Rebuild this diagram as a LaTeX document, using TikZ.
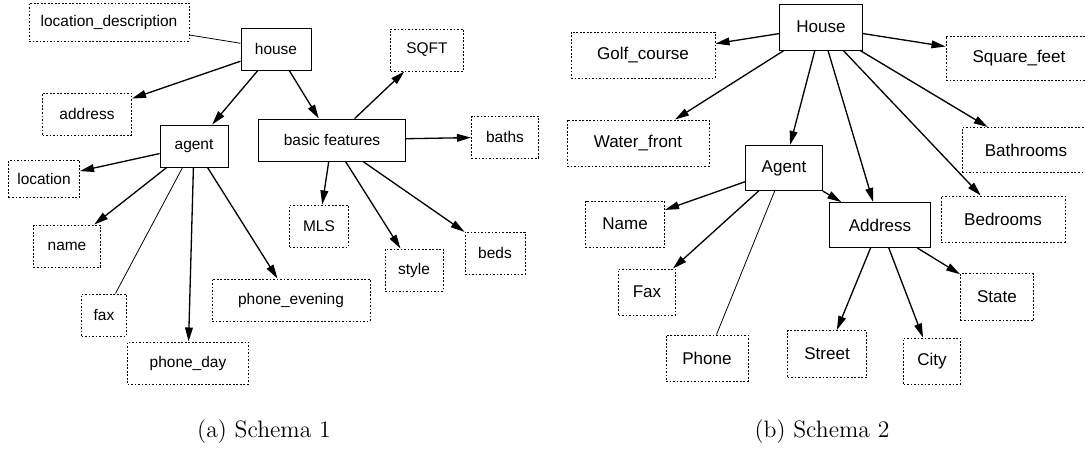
\documentclass[tikz,border=0pt]{standalone}
\usepackage{fontspec}
\newfontfamily\nodefont{Liberation Sans}
\usepackage{tikz}
\usetikzlibrary{arrows.meta}
\tikzset{
  ent/.style={draw, line width=0.55pt, inner sep=0pt, minimum height=0.84cm},
  attr/.style={draw, line width=0.55pt, dash pattern=on 1pt off 1pt, inner sep=0pt, minimum height=0.84cm},
  lft/.style={font=\nodefont\fontsize{8.8}{10}\selectfont},
  rgt/.style={font=\nodefont\fontsize{9.7}{11}\selectfont, minimum height=0.92cm},
  arr/.style={-{Triangle[length=8pt,width=4.4pt]}, line width=0.75pt},
  lnk/.style={line width=0.45pt},
  captxt/.style={font=\fontsize{13.5}{16}\selectfont},
}

\begin{document}
\begin{tikzpicture}[x=0.02cm, y=-0.02cm]
  \useasboundingbox (0,0) rectangle (1085,451);
  % schema 1
  \node[ent, lft, minimum width=1.4cm] (hs) at (276,49) {house};
  \node[attr, lft, minimum width=3.2cm, minimum height=0.76cm] (ld) at (109,22) {location\_description};
  \node[attr, lft, minimum width=1.46cm] (sq) at (427,50) {SQFT};
  \node[attr, lft, minimum width=1.78cm] (ad) at (87,114) {address};
  \node[ent, lft, minimum width=1.36cm] (ag) at (194,146) {agent};
  \node[ent, lft, minimum width=2.94cm] (bf) at (332,140) {basic features};
  \node[attr, lft, minimum width=1.34cm] (ba) at (505,137) {baths};
  \node[attr, lft, minimum width=1.42cm, minimum height=0.74cm] (lc) at (44,179) {location};
  \node[attr, lft, minimum width=1.34cm] (nm) at (67,246) {name};
  \node[attr, lft, minimum width=0.9cm] (fx) at (104,315) {fax};
  \node[attr, lft, minimum width=2.42cm] (pd) at (188,363) {phone\_day};
  \node[attr, lft, minimum width=3.16cm] (pe) at (291,300) {phone\_evening};
  \node[attr, lft, minimum width=1.18cm] (ml) at (319,226) {MLS};
  \node[attr, lft, minimum width=1.16cm] (st) at (414,270) {style};
  \node[attr, lft, minimum width=1.2cm] (bd) at (495,253) {beds};
  \draw[lnk] (hs) -- (ld);
  \draw[arr] (hs) -- (ad); \draw[arr] (hs) -- (ag); \draw[arr] (hs) -- (bf);
  \draw[arr] (bf) -- (sq); \draw[arr] (bf) -- (ba);
  \draw[arr] (bf) -- (ml); \draw[arr] (bf) -- (st); \draw[arr] (bf) -- (bd);
  \draw[arr] (ag) -- (lc); \draw[arr] (ag) -- (nm); \draw[lnk] (ag) -- (fx);
  \draw[arr] (ag) -- (pd); \draw[arr] (ag) -- (pe);
  \node[captxt] (ca) at (264,432) {(a) Schema 1};
  % schema 2
  \node[ent, rgt, minimum width=1.66cm] (hs2) at (821,27) {House};
  \node[attr, rgt, minimum width=2.88cm] (gc) at (643,55) {Golf\_course};
  \node[attr, rgt, minimum width=2.92cm, minimum height=0.88cm] (sf) at (1019,58) {Square\_feet};
  \node[attr, rgt, minimum width=2.84cm] (wf) at (638,143) {Water\_front};
  \node[ent, rgt, minimum width=1.54cm, minimum height=0.9cm] (ag2) at (784,168) {Agent};
  \node[attr, rgt, minimum width=2.56cm, minimum height=0.9cm] (br) at (1026,150) {Bathrooms};
  \node[attr, rgt, minimum width=2.48cm] (bd2) at (1003,219) {Bedrooms};
  \node[ent, rgt, minimum width=2.02cm, minimum height=0.9cm] (ad2) at (880,225) {Address};
  \node[attr, rgt, minimum width=1.58cm] (nm2) at (625,224) {Name};
  \node[attr, rgt, minimum width=1.14cm] (fx2) at (647,292) {Fax};
  \node[attr, rgt, minimum width=1.64cm] (ph) at (707,358) {Phone};
  \node[attr, rgt, minimum width=1.58cm, minimum height=0.94cm] (sr) at (827,354) {Street};
  \node[attr, rgt, minimum width=1.14cm] (ct) at (932,361) {City};
  \node[attr, rgt, minimum width=1.46cm, minimum height=0.94cm] (sa) at (997,297) {State};
  \draw[arr] (hs2) -- (gc); \draw[arr] (hs2) -- (sf); \draw[arr] (hs2) -- (wf);
  \draw[arr] (hs2) -- (ag2); \draw[arr] (hs2) -- (ad2);
  \draw[arr] (hs2) -- (bd2); \draw[arr] (hs2) -- (br);
  \draw[arr] (ag2) -- (nm2); \draw[arr] (ag2) -- (fx2); \draw[lnk] (ag2) -- (ph);
  \draw[arr] (ag2) -- (ad2);
  \draw[arr] (ad2) -- (sr); \draw[arr] (ad2) -- (ct); \draw[arr] (ad2) -- (sa);
  \node[captxt] (cb) at (822,432) {(b) Schema 2};
\end{tikzpicture}
\end{document}
